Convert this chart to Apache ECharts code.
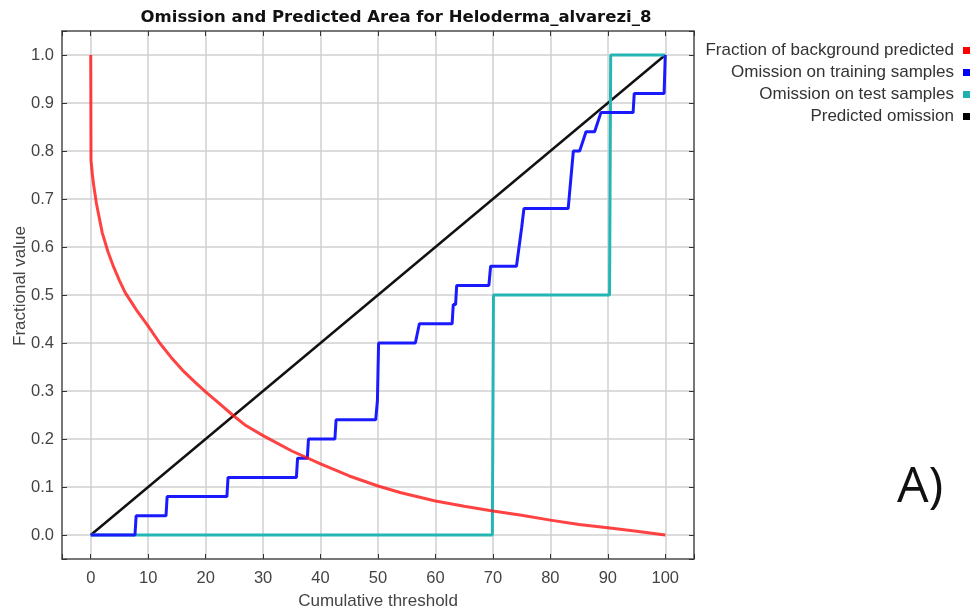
<!DOCTYPE html>
<html>
<head>
<meta charset="utf-8">
<script src="https://cdn.jsdelivr.net/npm/echarts@6/dist/echarts.min.js"></script>
<style>
  html, body { margin: 0; padding: 0; background: #fff; }
  #chart { width: 977px; height: 613px; }
</style>
</head>
<body>
<div id="chart"></div>
<script>
// fraction of background predicted (red)
var bgX = [0, 0.05, 0.3, 0.5, 1, 2, 3, 4, 5, 6, 8, 10, 12, 14, 16, 18, 20, 22, 24.7, 27, 30, 35, 40, 45, 50, 54, 60, 65, 70, 75, 80, 85, 90, 95, 100];
var bgY = [1.0, 0.78, 0.75, 0.73, 0.69, 0.63, 0.59, 0.558, 0.53, 0.505, 0.468, 0.435, 0.40, 0.37, 0.343, 0.32, 0.298, 0.278, 0.25, 0.228, 0.207, 0.175, 0.148, 0.123, 0.102, 0.088, 0.071, 0.06, 0.05, 0.041, 0.031, 0.022, 0.015, 0.008, 0.0];

// omission on training samples (blue)
var trainX = [0, 7.7, 7.9, 13.1, 13.3, 23.7, 23.9, 35.8, 36.0, 37.7, 37.9, 42.5, 42.7, 49.6, 49.9, 50.1, 56.5, 57.2, 62.9, 63.1, 63.5, 63.7, 69.3, 69.6, 74.1, 75.0, 75.4, 83.1, 84.0, 85.1, 86.2, 87.7, 88.8, 94.4, 94.6, 99.8, 100];
var trainY = [0, 0, 0.04, 0.04, 0.08, 0.08, 0.12, 0.12, 0.16, 0.16, 0.20, 0.20, 0.24, 0.24, 0.28, 0.40, 0.40, 0.44, 0.44, 0.48, 0.48, 0.52, 0.52, 0.56, 0.56, 0.64, 0.68, 0.68, 0.80, 0.80, 0.84, 0.84, 0.88, 0.88, 0.92, 0.92, 1.0];

// omission on test samples (cyan)
var testX = [0, 69.9, 70.1, 90.3, 90.5, 100];
var testY = [0, 0, 0.5, 0.5, 1.0, 1.0];

// predicted omission (black)
var predX = [0, 100];
var predY = [0, 1];

function pairs(xs, ys) {
  return xs.map(function (x, i) { return [x, ys[i]]; });
}

var font = 'Liberation Sans';
var chart = echarts.init(document.getElementById('chart'));

var option = {
  animation: false,
  backgroundColor: '#fff',
  title: {
    text: 'Omission and Predicted Area for Heloderma_alvarezi_8',
    left: 391,
    textAlign: 'center',
    top: 4,
    textStyle: { fontFamily: 'DejaVu Sans', fontWeight: 'bold', fontSize: 16.5, color: '#111' }
  },
  legend: {
    orient: 'vertical',
    right: 2,
    top: 37,
    align: 'right',
    itemWidth: 7,
    itemHeight: 7,
    itemGap: 5,
    icon: 'rect',
    textStyle: { fontFamily: font, fontSize: 17, lineHeight: 17, color: '#333', padding: [0, 4, 0, 0] },
    data: ['Fraction of background predicted', 'Omission on training samples', 'Omission on test samples', 'Predicted omission']
  },
  grid: { left: 62, right: 283, top: 31, bottom: 54, containLabel: false, outerBoundsMode: 'none' },
  xAxis: [{
    type: 'value',
    min: -5,
    max: 105,
    splitNumber: 11,
    name: 'Cumulative threshold',
    nameLocation: 'middle',
    nameGap: 34,
    nameTextStyle: { fontFamily: font, fontSize: 17, color: '#444' },
    axisLine: { onZero: false, lineStyle: { color: '#555', width: 1.5 } },
    axisTick: { inside: true, length: 5, lineStyle: { color: '#333' } },
    axisLabel: {
      fontFamily: font, fontSize: 16.5, color: '#444', margin: 11,
      formatter: function (v) { return v % 10 === 0 ? String(v) : ''; }
    },
    splitLine: { show: true, lineStyle: { color: '#d0d0d0', width: 1.5 } }
  }, {
    type: 'value',
    position: 'top',
    min: -5,
    max: 105,
    splitNumber: 11,
    axisLine: { onZero: false, lineStyle: { color: '#555', width: 1.5 } },
    axisTick: { inside: true, length: 5, lineStyle: { color: '#333' } },
    axisLabel: { show: false },
    splitLine: { show: false }
  }],
  yAxis: [{
    type: 'value',
    min: -0.05,
    max: 1.05,
    splitNumber: 11,
    name: 'Fractional value',
    nameLocation: 'middle',
    nameGap: 33,
    nameMoveOverlap: false,
    nameTextStyle: { fontFamily: font, fontSize: 17, color: '#444', padding: [0, 0, 0, 18] },
    axisLine: { show: true, onZero: false, lineStyle: { color: '#555', width: 1.5 } },
    axisTick: { show: true, inside: true, length: 5, lineStyle: { color: '#333' } },
    axisLabel: {
      fontFamily: font, fontSize: 16.5, color: '#444', margin: 8,
      formatter: function (v) {
        var r = Math.round(v * 10);
        return Math.abs(v * 10 - r) < 1e-6 ? (r / 10).toFixed(1) : '';
      }
    },
    splitLine: { show: true, lineStyle: { color: '#d0d0d0', width: 1.5 } }
  }, {
    type: 'value',
    position: 'right',
    min: -0.05,
    max: 1.05,
    splitNumber: 11,
    axisLine: { show: true, onZero: false, lineStyle: { color: '#555', width: 1.5 } },
    axisTick: { show: true, inside: true, length: 5, lineStyle: { color: '#333' } },
    axisLabel: { show: false },
    splitLine: { show: false }
  }],
  series: [{
    name: 'Predicted omission',
    type: 'line',
    data: pairs(predX, predY),
    showSymbol: false,
    color: '#000',
    lineStyle: { color: '#111', width: 2.5 }
  }, {
    name: 'Omission on test samples',
    type: 'line',
    data: pairs(testX, testY),
    showSymbol: false,
    color: '#1fb0b0',
    lineStyle: { color: '#25b5b5', width: 3 }
  }, {
    name: 'Omission on training samples',
    type: 'line',
    data: pairs(trainX, trainY),
    showSymbol: false,
    color: '#0000ff',
    lineStyle: { color: '#1a1aff', width: 3 }
  }, {
    name: 'Fraction of background predicted',
    type: 'line',
    data: pairs(bgX, bgY),
    showSymbol: false,
    color: '#ff0000',
    lineStyle: { color: 'rgba(255,20,20,0.8)', width: 3 }
  }],
  graphic: [{
    type: 'text',
    x: 897,
    y: 488,
    style: { text: 'A)', fontFamily: 'Open Sans', fontSize: 50, fill: '#111', textAlign: 'left', textVerticalAlign: 'middle' }
  }]
};

chart.setOption(option);
</script>
</body>
</html>
